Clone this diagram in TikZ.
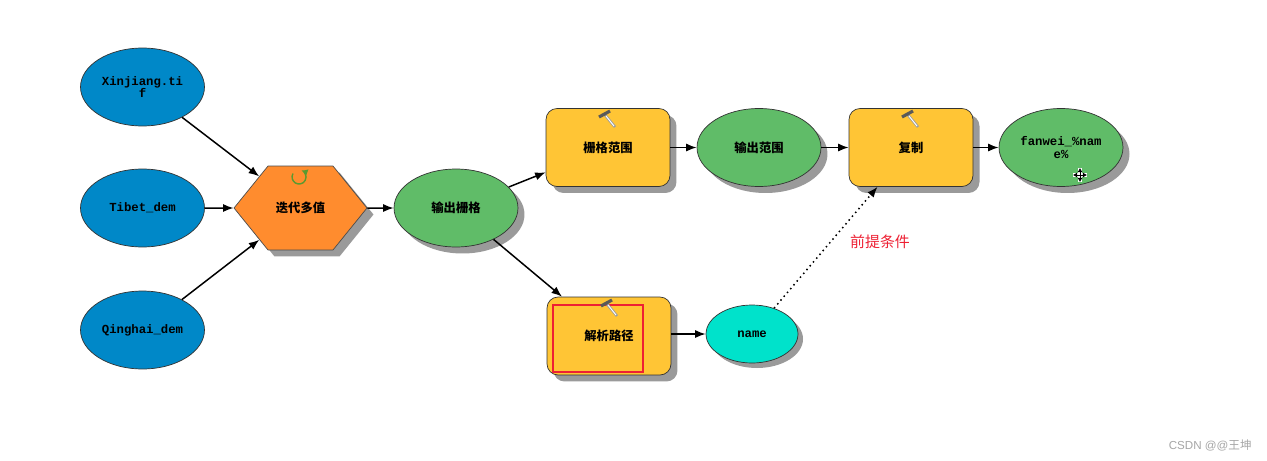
\documentclass[tikz,border=0pt]{standalone}
\usepackage{fontspec}
\setmainfont{Liberation Sans}
\newfontfamily\cjk{Noto Sans CJK SC}
\newfontfamily\modelfont{Liberation Mono}
\usetikzlibrary{arrows.meta, shapes.geometric, shapes.symbols, shadows}

\definecolor{inblue}{HTML}{0088C8}
\definecolor{iterorange}{HTML}{FF8C2E}
\definecolor{outgreen}{HTML}{60BC68}
\definecolor{toolyellow}{HTML}{FFC535}
\definecolor{nameteal}{HTML}{00E2CB}
\definecolor{shadowgray}{HTML}{9A9A9A}
\definecolor{markred}{HTML}{EE2033}
\definecolor{loopgreen}{HTML}{5A9A30}

\tikzset{
  modelshadow/.style={drop shadow={shadow xshift=0.13cm, shadow yshift=-0.13cm, fill=shadowgray, opacity=1}},
  modeltext/.style={font=\modelfont\bfseries\fontsize{7pt}{7pt}\selectfont, align=center, text=black},
  cjktext/.style={font=\cjk\bfseries\fontsize{7pt}{7pt}\selectfont, align=center, text=black},
  dataoval/.style={ellipse, draw=black!80, thin, minimum width=2.48cm, minimum height=1.56cm, inner sep=0pt},
  toolbox/.style={rectangle, rounded corners=0.22cm, draw=black!80, thin, fill=toolyellow,
    minimum width=2.48cm, minimum height=1.56cm, inner sep=0pt, modelshadow, cjktext},
  link/.style={-{Latex[length=6pt,width=4.6pt]}, line width=0.85pt, black},
  hammer/.pic={
    \draw[line width=1.5pt, gray!75] (-2,-4) -- (8,8);
    \draw[line width=0.5pt, white] (-1,-3) -- (7,7);
    \draw[line width=1.8pt, gray!70!black] (-8,-2) -- (3,-8);
  },
  movecursor/.pic={
    \draw[line width=2.2pt, white] (-7,0) -- (7,0) (0,-7) -- (0,7);
    \draw[{Latex[length=2.4pt,width=3pt]}-{Latex[length=2.4pt,width=3pt]}, line width=0.5pt] (-7,0) -- (7,0);
    \draw[{Latex[length=2.4pt,width=3pt]}-{Latex[length=2.4pt,width=3pt]}, line width=0.5pt] (0,-7) -- (0,7);
  }
}

\begin{document}
\begin{tikzpicture}[x=0.02cm, y=-0.02cm]
  \useasboundingbox[fill=white] (0,0) rectangle (1267,460);

  % Inputs
  \node[dataoval, fill=inblue, modeltext] (xinjiang) at (142.5,87) {Xinjiang.ti\\f};
  \node[dataoval, fill=inblue, modeltext] (tibet) at (142.5,208) {Tibet\_dem};
  \node[dataoval, fill=inblue, modeltext] (qinghai) at (142.5,330) {Qinghai\_dem};

  % Iterator
  \node[signal, signal to=east and west, signal pointer angle=102,
    draw=black!70, thin, fill=iterorange, minimum width=2.66cm, minimum height=1.68cm, inner sep=0pt,
    modelshadow, cjktext] (iterate) at (300.5,208) {迭代多值};
  \draw[-{Latex[length=3.5pt,width=4pt]}, line width=0.8pt, loopgreen]
    (iterate.center) ++(-7.5,-34.5) arc[start angle=-150, end angle=-430, radius=7];

  % Outputs and tools
  \node[dataoval, fill=outgreen, modelshadow, cjktext] (raster) at (456,208) {输出栅格};
  \node[toolbox] (extent) at (608,147.5) {栅格范围};
  \node[dataoval, fill=outgreen, modelshadow, cjktext] (outextent) at (759,147.5) {输出范围};
  \node[toolbox] (copytool) at (911,147.5) {复制};
  \node[dataoval, fill=outgreen, modelshadow, modeltext] (fanwei) at (1061,147.5) {fanwei\_\%nam\\e\%};
  \node[toolbox] (parse) at (609,336) {解析路径};
  \node[ellipse, draw=black!80, thin, fill=nameteal, minimum width=1.84cm, minimum height=1.16cm,
    inner sep=0pt, drop shadow={shadow xshift=0.1cm, shadow yshift=-0.1cm, fill=shadowgray, opacity=1},
    modeltext] (name) at (752,334) {name};

  % Red mark
  \node[rectangle, draw=markred, line width=0.9pt, minimum width=1.8cm, minimum height=1.34cm,
    inner sep=0pt] (mark) at (598,338.5) {};

  % Tool icons
  \pic at (607,119) {hammer};
  \pic at (910,119) {hammer};
  \pic at (609,308) {hammer};
  \pic at (1080,175) {movecursor};

  % Connectors
  \foreach \from/\to in {xinjiang/iterate, tibet/iterate, qinghai/iterate, iterate/raster,
    raster/extent, raster/parse, extent/outextent, outextent/copytool, copytool/fanwei}
    \draw[link] (\from) -- (\to);
  \draw[link] (parse.east |- name) -- (name);
  \draw[link, dotted] (name) -- (copytool);

  % Labels
  \node[font=\cjk\fontsize{8.5pt}{8.5pt}\selectfont, text=markred] (precondition) at (880,242) {前提条件};
  \node[font=\fontsize{6.6pt}{6.6pt}\selectfont, text=gray!70, anchor=east, inner sep=0pt] (watermark) at (1252,445) {CSDN @@{\cjk 王坤}};
\end{tikzpicture}
\end{document}
